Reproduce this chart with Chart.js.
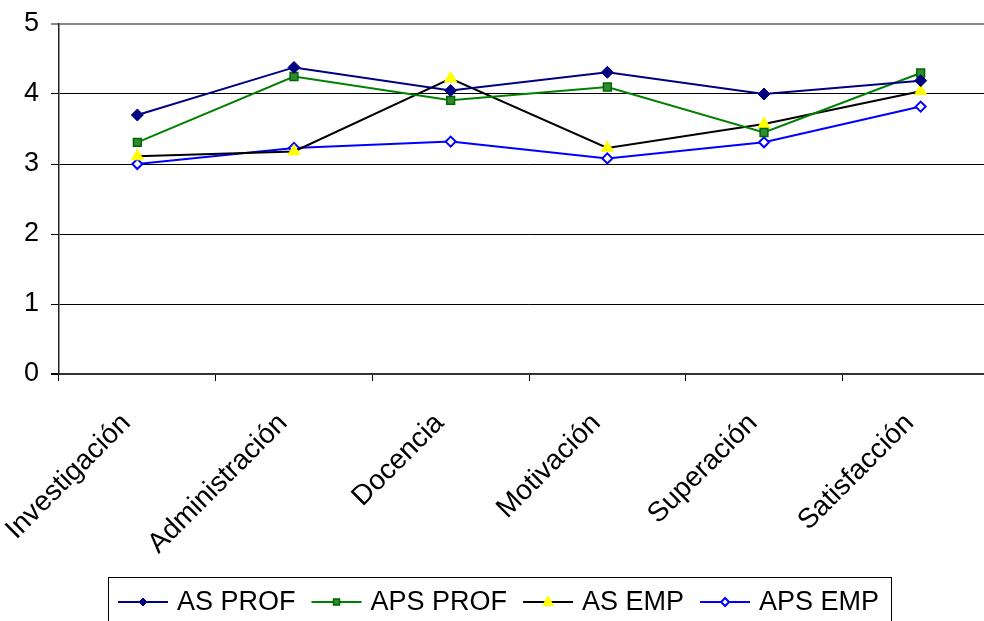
<!DOCTYPE html>
<html>
<head>
<meta charset="utf-8">
<script src="https://cdn.jsdelivr.net/npm/chart.js@4/dist/chart.umd.min.js"></script>
<style>
  html, body { margin: 0; padding: 0; background: #fff; overflow: hidden; }
  #wrap { position: absolute; left: 0; top: 0; }
</style>
</head>
<body>
<div id="wrap"><canvas id="c" width="1010" height="621"></canvas></div>
<script>
const categories = ['Investigación', 'Administración', 'Docencia', 'Motivación', 'Superación', 'Satisfacción'];
const asProf  = [3.70, 4.38, 4.05, 4.31, 4.00, 4.19];
const apsProf = [3.31, 4.25, 3.91, 4.10, 3.45, 4.30];
const asEmp   = [3.11, 3.18, 4.22, 3.23, 3.57, 4.04];
const apsEmp  = [3.00, 3.23, 3.32, 3.08, 3.31, 3.82];
const yTicks  = [0, 1, 2, 3, 4, 5];

const FONT = '"Liberation Sans", Arial, sans-serif';
const FONT_SIZE = 27;

function drawMarker(ctx, style, cx, cy, r) {
  if (style === 'rectRot') {
    ctx.moveTo(cx, cy - r); ctx.lineTo(cx + r, cy); ctx.lineTo(cx, cy + r); ctx.lineTo(cx - r, cy); ctx.closePath();
  } else if (style === 'rect') {
    ctx.rect(cx - r * 0.75, cy - r * 0.75, r * 1.5, r * 1.5);
  } else {
    ctx.moveTo(cx, cy - r); ctx.lineTo(cx + r * 0.9, cy + r * 0.6); ctx.lineTo(cx - r * 0.9, cy + r * 0.6); ctx.closePath();
  }
}

// Legend drawn as a boxed row: line sample with marker, then label
const boxedLegend = {
  id: 'boxedLegend',
  afterDraw(chart) {
    const ctx = chart.ctx;
    ctx.save();
    ctx.font = FONT_SIZE + 'px ' + FONT;
    ctx.strokeStyle = '#000';
    ctx.lineWidth = 1;
    ctx.strokeRect(108.5, 577.5, 783, 60);
    let x = 118;
    const y = 602;
    chart.data.datasets.forEach(ds => {
      ctx.strokeStyle = ds.borderColor;
      ctx.lineWidth = 2;
      ctx.beginPath();
      ctx.moveTo(x, y);
      ctx.lineTo(x + 50, y);
      ctx.stroke();
      ctx.fillStyle = ds.pointBackgroundColor;
      ctx.strokeStyle = ds.pointBorderColor;
      ctx.lineWidth = ds.pointBorderWidth;
      ctx.beginPath();
      drawMarker(ctx, ds.pointStyle, x + 25, y, ds.legendRadius);
      ctx.fill();
      ctx.stroke();
      ctx.fillStyle = '#000';
      ctx.textBaseline = 'middle';
      ctx.textAlign = 'left';
      ctx.fillText(ds.label, x + 59, y + 1);
      x += 59 + ctx.measureText(ds.label).width + 16;
    });
    ctx.restore();
  }
};

new Chart(document.getElementById('c'), {
  type: 'line',
  data: {
    labels: categories,
    datasets: [
      { label: 'AS PROF', data: asProf, borderColor: '#000080', borderWidth: 2,
        pointStyle: 'rectRot', pointRadius: 6, pointBackgroundColor: '#000080', pointBorderColor: '#000080',
        pointBorderWidth: 1, legendRadius: 4 },
      { label: 'APS PROF', data: apsProf, borderColor: '#008000', borderWidth: 2,
        pointStyle: 'rect', pointRadius: 5.5, pointBackgroundColor: '#2e8b2e', pointBorderColor: '#006400',
        pointBorderWidth: 1.5, legendRadius: 4 },
      { label: 'AS EMP', data: asEmp, borderColor: '#000000', borderWidth: 2,
        pointStyle: 'triangle', pointRadius: 7, pointBackgroundColor: '#ffff00', pointBorderColor: '#ffff00',
        pointBorderWidth: 1, legendRadius: 6 },
      { label: 'APS EMP', data: apsEmp, borderColor: '#0000ff', borderWidth: 2,
        pointStyle: 'rectRot', pointRadius: 5, pointBackgroundColor: '#ffffff', pointBorderColor: '#0000ff',
        pointBorderWidth: 2, legendRadius: 4 }
    ]
  },
  options: {
    responsive: false,
    animation: false,
    events: [],
    layout: { padding: { top: 24, right: 11, bottom: 47, left: 0 } },
    elements: { line: { tension: 0 } },
    plugins: { legend: { display: false }, tooltip: { enabled: false } },
    scales: {
      x: {
        offset: true,
        grid: { offset: true, drawOnChartArea: false, drawTicks: true, tickLength: 7, color: '#000', lineWidth: 1 },
        border: { display: true, color: '#333', width: 2 },
        ticks: {
          color: '#000', font: { family: FONT, size: 28 },
          minRotation: 45, maxRotation: 45, autoSkip: false, padding: 26, labelOffset: -11
        },
        afterFit(scale) {
          scale.height = 200;
          scale.paddingLeft = 0;
          scale.paddingRight = 0;
        }
      },
      y: {
        min: 0, max: 5,
        afterBuildTicks(scale) { scale.ticks = yTicks.map(v => ({ value: v })); },
        grid: {
          drawTicks: true, tickLength: 8,
          color: ctx => ctx.tick && ctx.tick.value === 5 ? '#888' : '#000',
          lineWidth: ctx => ctx.tick && (ctx.tick.value === 5 || ctx.tick.value === 0) ? 2 : 1
        },
        border: { display: true, color: '#222', width: 1.5 },
        ticks: { color: '#000', font: { family: FONT, size: FONT_SIZE }, padding: 12 },
        afterFit(scale) {
          scale.width = 59;
          scale.paddingTop = 0;
          scale.paddingBottom = 0;
        }
      }
    }
  },
  plugins: [boxedLegend]
});
</script>
</body>
</html>
